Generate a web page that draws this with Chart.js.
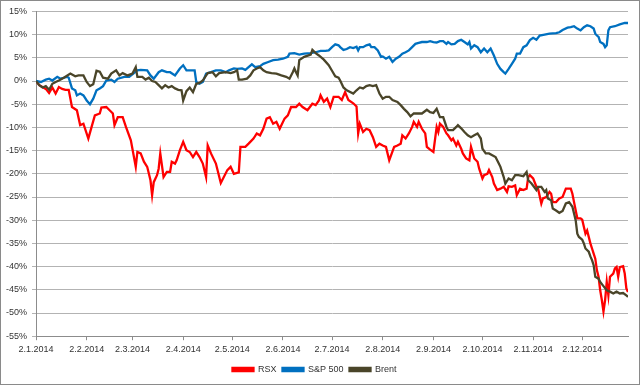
<!DOCTYPE html>
<html>
<head>
<meta charset="utf-8">
<script src="https://cdn.jsdelivr.net/npm/chart.js@4.4.1/dist/chart.umd.min.js"></script>
<style>
  html, body { margin: 0; padding: 0; background: #fff; }
  #wrap { width: 640px; height: 385px; box-sizing: border-box; border: 1px solid #8a8a8a; background: #fff; }
  #chart { display: block; }
</style>
</head>
<body>
<div id="wrap"><canvas id="chart" width="638" height="383"></canvas></div>
<script>
// x = days since 2.1.2014, y = change in %
const monthDays = [0, 31, 59, 90, 120, 151, 181, 212, 243, 273, 304, 334];
const monthLabels = ['2.1.2014', '2.2.2014', '2.3.2014', '2.4.2014', '2.5.2014', '2.6.2014',
    '2.7.2014', '2.8.2014', '2.9.2014', '2.10.2014', '2.11.2014', '2.12.2014'];

const rsxDays = [0, 2, 6, 8, 10, 12, 14, 16, 18, 20, 22, 25, 27, 29, 32, 34, 36, 39, 40, 43, 45, 47, 48, 50, 53, 55, 58,
    61, 62, 64, 66, 68, 70, 71, 72, 74, 75, 76, 78, 80, 82, 83, 85, 86, 88, 90, 92, 94, 96, 98, 100, 102, 104, 105,
    107, 110, 113, 117, 119, 121, 124, 125, 128, 130, 133, 135, 137, 139, 141, 143, 145, 147, 149, 152, 154, 156,
    159, 161, 163, 166, 169, 171, 173, 174, 176, 178, 180, 182, 185, 187, 189, 191, 194, 196, 197, 198, 200, 202,
    204, 206, 208, 210, 212, 214, 216, 219, 221, 223, 224, 226, 228, 230, 231, 233, 234, 236, 238, 239, 241, 243,
    245, 246, 247, 249, 251, 252, 254, 255, 257, 258, 260, 261, 263, 265, 266, 268, 270, 271, 273, 274, 276, 277,
    279, 280, 282, 284, 286, 288, 289, 291, 293, 294, 296, 298, 300, 301, 302, 304, 306, 307, 309, 310, 312, 314,
    315, 316, 318, 320, 322, 324, 327, 328, 329, 331, 333, 334, 335, 336, 337, 338, 339, 340, 341, 342, 343, 344,
    345, 346, 347, 348, 349, 350, 351, 353, 354, 355, 356, 357, 359, 360, 361, 362];
const rsxValues = [0, -0.9, -1.7, -2.6, -1.4, -2.7, -1.3, -1.7, -1.9, -1.9, -5.6, -6.3, -9.5, -9.2, -12.4, -9.9, -7.4,
    -7.0, -5.7, -5.6, -6.3, -7.0, -9.5, -7.8, -7.8, -9.9, -12.8,
    -18.5, -15.3, -15.6, -17.4, -18.5, -21.4, -24.6, -21.8, -20.3, -18.9, -15.6, -20.7, -19.6, -19.6, -17.4, -17.8,
    -17.1, -14.9, -13.1, -14.9, -15.3, -16.4, -15.3, -16.4, -17.8, -20.7, -13.9,
    -15.6, -17.8, -22.0, -19.2, -18.5, -20.0, -19.7, -14.2, -14.2, -13.5, -12.4, -11.3, -11.7, -10.3, -8.1, -7.8,
    -9.2, -8.8, -10.3, -8.1, -7.4, -5.6,
    -5.6, -4.9, -5.6, -6.3, -4.9, -5.2, -4.2, -3.1, -4.5, -3.8, -5.6, -3.4, -3.4, -4.1, -2.4, -4.1, -4.8, -5.5,
    -11.3, -9.2, -11.0, -10.3,
    -10.6, -12.1, -14.2, -13.5, -13.9, -14.2, -17.1, -14.2, -13.9, -13.5, -11.7, -12.4, -11.3, -9.9, -8.8, -9.9,
    -8.8, -10.3, -11.3, -14.2, -14.8, -15.3,
    -9.9, -11.0, -9.2, -9.9, -11.3, -11.7, -12.8, -12.4, -13.9, -13.1, -14.6, -15.6, -16.7, -17.1, -14.2, -16.7,
    -17.4, -18.9, -21.0, -20.3, -20.0, -19.2,
    -20.7, -22.1, -23.5, -23.2, -22.8, -23.9, -22.7, -22.8, -22.5, -24.6, -23.2, -23.5, -23.2, -20.7, -20.3, -21.0,
    -22.8, -23.2, -26.4, -25.3, -25.0, -23.9,
    -24.3, -26.1, -26.1, -25.3, -25.0, -23.2, -23.2, -24.3, -26.1, -29.6, -29.6, -29.9, -31.4, -32.9, -32.2, -33.6,
    -35.0, -36.1, -37.2, -38.3, -40.8, -42.2,
    -45.1, -47.2, -49.7, -47.2, -43.3, -46.2, -42.2, -41.5, -40.4, -40.1, -42.2, -40.1, -39.9, -41.5, -44.7, -45.5];

const spxDays = [0, 3, 6, 8, 10, 13, 15, 17, 19, 20, 22, 24, 25, 27, 29, 31, 33, 35, 37, 39, 41, 43, 46, 48, 50, 54,
    57, 62, 64, 68, 70, 72, 75, 77, 80, 82, 85, 88, 90, 92, 94, 97, 98, 100, 102, 104, 107, 110, 113, 116, 118, 121,
    123, 126, 128, 130, 132, 134, 137, 139, 142, 145, 148, 151, 154, 155, 158, 161, 164, 168, 171, 174, 177, 179,
    181, 183, 185, 186, 188, 190, 192, 194, 196, 197, 198, 200, 202, 204, 205, 207, 209, 211, 212, 214, 216, 218,
    220, 222, 224, 226, 228, 230, 232, 234, 236, 239, 241, 243, 245, 247, 249, 251, 252, 254, 256, 258, 260, 262,
    264, 265, 266, 268, 270, 272, 274, 276, 278, 280, 282, 284, 286, 287, 289, 291, 293, 294, 296, 298, 300, 302,
    304, 306, 308, 311, 314, 318, 320, 322, 325, 327, 329, 331, 333, 335, 337, 339, 341, 342, 343, 344, 345, 347,
    348, 349, 350, 351, 354, 357, 360, 362];
const spxValues = [0, -0.2, 0.3, 0.5, 0.1, 0.9, 0.5, 0.7, 0.9, 0.7, -1.6, -2.0, -3.1, -2.7, -3.1, -4.2, -5.0, -3.8,
    -2.0, -1.6, -1.1, 0.1, 0.3, -0.2, 0.5, 0.9,
    0.9, 2.3, 2.4, 2.3, 1.2, 0.5, 1.9, 2.3, 1.9, 1.9, 1.2, 2.7, 3.4, 2.3, 2.3, 2.3, -0.2, -0.6, -0.2, 1.6, 1.9, 2.3,
    2.3, 1.9, 2.3, 2.7,
    2.6, 2.7, 2.4, 3.0, 3.6, 3.0, 3.2, 3.7, 4.1, 4.5, 4.6, 4.8, 5.2, 5.9, 6.0, 5.7, 5.9, 6.0, 6.2, 6.5, 6.5, 6.6,
    7.3, 7.9, 7.7, 7.3, 6.7, 6.9, 7.3, 7.1, 7.4, 6.6, 7.3, 7.3, 7.7, 7.9, 7.3, 7.3, 6.6, 5.2, 5.3, 4.8, 5.2, 4.1,
    4.8, 5.2, 5.9, 6.2, 6.6, 7.3, 8.0, 8.2, 8.4, 8.4, 8.6, 8.4, 8.3, 8.6, 8.6, 8.0, 8.4, 7.9, 8.0, 8.6, 8.9, 8.4,
    7.9, 8.4, 7.0, 7.7, 7.3, 6.2, 7.0, 6.2, 7.0, 5.5, 3.7, 2.6, 1.9, 1.6, 2.6, 3.7, 4.8, 5.9, 5.9, 7.3, 7.7, 8.8,
    9.3, 8.9, 9.8, 10.0, 10.2, 10.3, 10.5, 11.0, 11.5, 11.6, 11.8, 11.3, 10.9, 11.6, 12.0, 11.8, 11.3, 10.2, 9.8,
    9.5, 8.4, 8.0,
    7.3, 7.7, 10.9, 11.6, 11.8, 12.2, 12.5, 12.5];

const brentDays = [0, 2, 4, 6, 8, 10, 12, 14, 17, 21, 24, 26, 29, 31, 33, 35, 37, 39, 41, 44, 46, 49, 51, 53, 56, 59,
    61, 62, 65, 67, 69, 71, 73, 75, 77, 79, 81, 83, 85, 87, 89, 90, 92, 94, 96, 98, 100, 102, 105, 108, 110, 112,
    116, 119, 121, 123, 124, 126, 129, 131, 133, 135, 137, 139, 141, 144, 147, 150, 153, 155, 157, 158, 159, 160,
    161, 164, 168, 169, 171, 173, 176, 179, 181, 183, 185, 186, 188, 190, 194, 196, 198, 200, 202, 204, 206, 208,
    210, 212, 214, 216, 218, 221, 223, 225, 227, 229, 231, 233, 236, 239, 241, 243, 245, 247, 249, 251, 252, 255,
    257, 258, 260, 262, 264, 266, 268, 270, 272, 273, 275, 277, 279, 281, 283, 284, 286, 287, 289, 291, 293, 295,
    298, 300, 301, 303, 306, 307, 309, 311, 312, 313, 315, 316, 318, 320, 322, 324, 326, 328, 330, 331, 332, 334,
    335, 336, 338, 339, 340, 341, 342, 344, 345, 347, 349, 351, 353, 355, 357, 359, 361, 362];
const brentValues = [0, -0.9, -1.4, -1.1, -1.9, -0.6, -0.2, 0.1, 0.7, 1.6, 1.0, 1.2, 1.2, -0.2, -1.1, -0.7, 2.2, 2.0,
    0.7, 0.5, 1.6, 2.3, 1.2, 1.7, 1.2, 1.6,
    3.0, 0.9, 0.9, 0.3, 0.7, 0, -0.2, -0.9, -1.6, -0.9, -1.4, -1.1, -1.6, -1.9, -2.0, -4.2, -2.2, -1.4, -2.4, -0.6,
    -0.4, 0.1, 1.7, 1.9, 1.0, 1.7,
    1.9, 1.7, 1.9, 2.3, 0.3, 0.3, 0.5, 1.2, 2.3, 2.7, 3.0, 2.3, 1.9, 1.7, 1.6, 1.2, 0.9, 0.5, 1.9, 2.7, 1.9, 1.2,
    4.5, 5.2, 5.7, 6.7, 6.0, 5.5, 4.6, 3.4, 2.2, 1.0, 0.7, 0.1, -1.4, -2.0, -2.7, -2.0, -1.4, -1.6, -1.1, -0.9,
    -1.1, -0.9,
    -2.7, -3.8, -3.4, -3.4, -4.1, -4.5, -5.2, -6.0, -6.7, -7.6, -7.0, -7.0, -7.0, -6.2, -6.7, -6.9, -6.0, -7.8,
    -7.8, -9.9, -10.6, -10.6,
    -9.9, -9.5, -10.2, -11.0, -11.7, -12.1, -11.7, -11.3, -12.4, -14.6, -15.6, -15.6, -16.0, -16.4, -17.8, -18.5,
    -20.7, -22.1, -21.0, -21.4, -20.3, -20.3,
    -20.5, -19.6, -21.4, -22.1, -23.5, -22.8, -22.8, -23.9, -23.5, -25.3, -25.7, -27.5, -27.9, -28.4, -28.0, -26.4,
    -26.1, -27.1, -30.0, -32.9, -33.6, -34.2,
    -35.0, -36.1, -36.8, -37.8, -38.6, -39.7, -42.2, -42.6, -43.3, -44.2, -45.1, -45.4, -45.8, -45.4, -45.8, -45.7,
    -46.2, -46.5];

const seriesNames = ['RSX', 'S&P 500', 'Brent'];
const seriesColors = ['#ff0000', '#0070c0', '#4a4529'];

function toPoints(days, values) {
    return days.map((d, i) => ({ x: d, y: values[i] }));
}

const allSeries = [
    toPoints(rsxDays, rsxValues),
    toPoints(spxDays, spxValues),
    toPoints(brentDays, brentValues)
];

const textColor = '#333333';
const gridColor = '#b3b3b3';
const font = { family: 'Liberation Sans, Arial, sans-serif', size: 9 };

const ctx = document.getElementById('chart').getContext('2d');
new Chart(ctx, {
    type: 'line',
    data: {
        datasets: allSeries.map((pts, i) => ({
            label: seriesNames[i],
            data: pts,
            borderColor: seriesColors[i],
            backgroundColor: seriesColors[i],
            borderWidth: 2.3,
            pointRadius: 0,
            tension: 0,
            fill: false,
            // excel paints later series on top
            order: allSeries.length - i
        }))
    },
    options: {
        responsive: false,
        animation: false,
        layout: { padding: { left: 0, right: 11, top: 6, bottom: 0 } },
        plugins: {
            tooltip: { enabled: false },
            legend: {
                position: 'bottom',
                labels: {
                    color: textColor,
                    font: font,
                    boxWidth: 21,
                    boxHeight: 3,
                    padding: 6,
                    sort: (a, b) => a.datasetIndex - b.datasetIndex
                }
            }
        },
        scales: {
            x: {
                type: 'linear',
                min: 0,
                max: 362,
                afterBuildTicks: (scale) => {
                    scale.ticks = monthDays.map(v => ({ value: v }));
                },
                ticks: {
                    color: textColor,
                    font: font,
                    autoSkip: false,
                    maxRotation: 0,
                    padding: 4,
                    callback: (value, index) => monthLabels[index]
                },
                grid: {
                    drawOnChartArea: false,
                    drawTicks: true,
                    tickLength: 4,
                    color: '#8c8c8c'
                },
                border: { color: '#8c8c8c', width: 1 }
            },
            y: {
                min: -55,
                max: 15,
                afterFit: (scale) => { scale.width = 35; },
                ticks: {
                    stepSize: 5,
                    color: textColor,
                    font: font,
                    padding: 5,
                    callback: (value) => value + '%'
                },
                grid: {
                    color: gridColor,
                    lineWidth: 1,
                    tickLength: 4
                },
                border: { color: '#8c8c8c', width: 1 }
            }
        }
    }
});
</script>
</body>
</html>
